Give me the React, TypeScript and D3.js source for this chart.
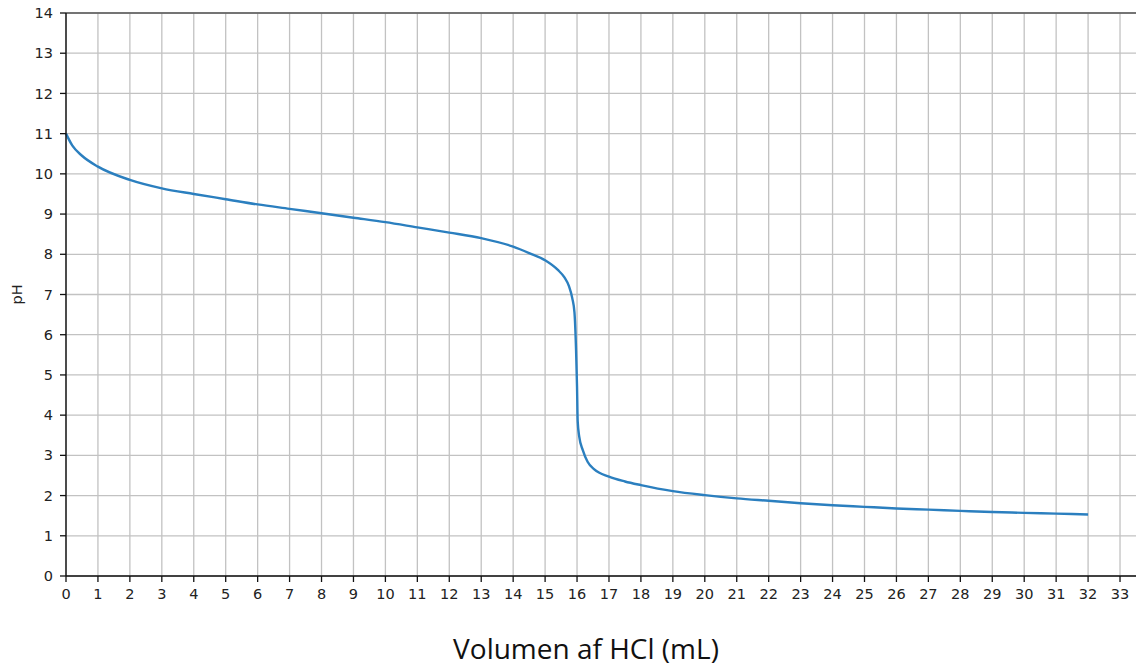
import React from "react";
import * as d3 from "d3";

const volumes: number[] = [
  0, 0.2, 0.5, 1, 2, 3, 4, 5, 6, 7, 8, 9, 10, 11, 12, 13, 14, 14.5, 15,
  15.4, 15.6, 15.75, 15.85, 15.92, 15.97, 16.0, 16.02, 16.07, 16.18, 16.33,
  16.54, 17, 17.5, 18, 19, 20, 21, 22, 23, 24, 25, 26, 27, 28, 29, 30, 31, 32,
];
const phValues: number[] = [
  11.0, 10.7, 10.45, 10.18, 9.85, 9.64, 9.5, 9.37, 9.24, 9.13, 9.02,
  8.91, 8.8, 8.67, 8.54, 8.4, 8.19, 8.03, 7.85, 7.61, 7.43, 7.2, 6.91, 6.55,
  5.6, 4.7, 3.85, 3.46, 3.13, 2.84, 2.65, 2.47, 2.35, 2.26, 2.11, 2.01, 1.93,
  1.87, 1.81, 1.76, 1.72, 1.68, 1.65, 1.62, 1.59, 1.57, 1.55, 1.53,
];
const xTicks: number[] = d3.range(0, 34);
const yTicks: number[] = d3.range(0, 15);
const xLabel = "Volumen af HCl (mL)";
const yLabel = "pH";

const W = 1136;
const H = 670;
const left = 66;
const top = 13;
const bottom = 576;
const unitX = 31.94;

export default function App() {
  const x = d3.scaleLinear().domain([0, 34]).range([left, left + 34 * unitX]);
  const y = d3.scaleLinear().domain([0, 14]).range([bottom, top]);
  const data = volumes.map((v, i) => [v, phValues[i]] as [number, number]);
  const line = d3
    .line<[number, number]>()
    .x((d) => x(d[0]))
    .y((d) => y(d[1]))
    .curve(d3.curveMonotoneX);
  const right = x(34);
  const tickFont = "DejaVu Sans, sans-serif";
  return (
    <svg
      width={W}
      height={H}
      style={{ position: "absolute", left: 0, top: 0, background: "#fff" }}
    >
      <rect x={0} y={0} width={W} height={H} fill="#fff" />
      {xTicks.map((t) => (
        <line
          key={"gx" + t}
          x1={x(t)}
          x2={x(t)}
          y1={top}
          y2={bottom}
          stroke="#c2c2c2"
          strokeWidth={1.3}
        />
      ))}
      {yTicks.map((t) => (
        <line
          key={"gy" + t}
          x1={left}
          x2={right}
          y1={y(t)}
          y2={y(t)}
          stroke="#c2c2c2"
          strokeWidth={1.3}
        />
      ))}
      <path
        d={line(data) || ""}
        fill="none"
        stroke="#2b7fbf"
        strokeWidth={2.4}
        strokeLinejoin="round"
      />
      <line x1={left} x2={right} y1={top} y2={top} stroke="#555" strokeWidth={1.6} />
      <line x1={left} x2={left} y1={top} y2={bottom} stroke="#111" strokeWidth={1.4} />
      <line x1={left} x2={right} y1={bottom} y2={bottom} stroke="#111" strokeWidth={1.4} />
      {xTicks.map((t) => (
        <g key={"tx" + t}>
          <line x1={x(t)} x2={x(t)} y1={bottom} y2={bottom + 6} stroke="#111" strokeWidth={1.3} />
          <text
            x={x(t)}
            y={bottom + 23}
            textAnchor="middle"
            fontFamily={tickFont}
            fontSize={14.5}
            fill="#222"
          >
            {t}
          </text>
        </g>
      ))}
      {yTicks.map((t) => (
        <g key={"ty" + t}>
          <line x1={left - 6} x2={left} y1={y(t)} y2={y(t)} stroke="#111" strokeWidth={1.3} />
          <text
            x={left - 13}
            y={y(t)}
            dy="0.35em"
            textAnchor="end"
            fontFamily={tickFont}
            fontSize={14.5}
            fill="#222"
          >
            {t}
          </text>
        </g>
      ))}
      <text
        transform={`translate(22, ${(top + bottom) / 2}) rotate(-90)`}
        textAnchor="middle"
        fontFamily={tickFont}
        fontSize={14.5}
        fill="#222"
      >
        {yLabel}
      </text>
      <text
        x={586}
        y={659}
        textAnchor="middle"
        fontFamily="'Open Sans', sans-serif"
        fontSize={28}
        fill="#111"
      >
        {xLabel}
      </text>
    </svg>
  );
}
